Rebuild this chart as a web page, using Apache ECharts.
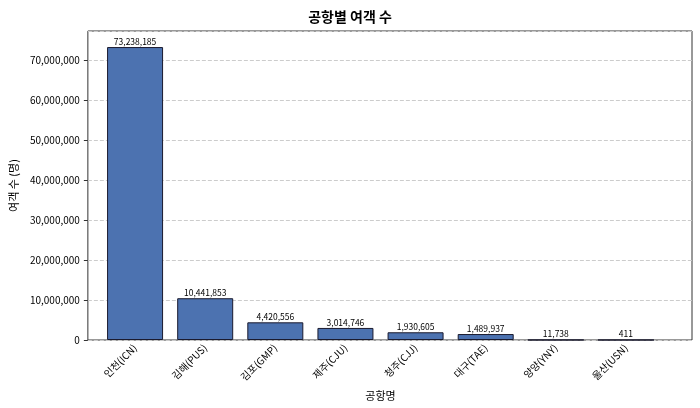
<!DOCTYPE html><html><head><meta charset="utf-8"><script src="https://cdn.jsdelivr.net/npm/echarts@6/dist/echarts.min.js"></script></head><body style="margin:0"><div id="c" style="width:700px;height:408px"></div><script>
const categories=['인천(ICN)','김해(PUS)','김포(GMP)','제주(CJU)','청주(CJJ)','대구(TAE)','양양(YNY)','울산(USN)'];
const passengers=[73238185,10441853,4420556,3014746,1930605,1489937,11738,411];
const F='"Noto Sans CJK KR", sans-serif';
const YMAX=77250000;
const fmt=v=>v.toLocaleString('en-US');
const ch=echarts.init(document.getElementById('c'));
ch.setOption({
 animation:false,
 title:{text:'공항별 여객 수',left:'center',top:5,textStyle:{fontFamily:F,fontSize:14,fontWeight:'bold',color:'#000'}},
 grid:[{left:70,right:8,top:31,bottom:68,show:true,borderColor:'#333',borderWidth:1},
       {left:100,width:561,top:31,bottom:68}],
 xAxis:[{gridIndex:0,type:'value',min:0,max:1,show:false},
  {gridIndex:1,type:'category',data:categories,axisLine:{show:false},axisTick:{alignWithLabel:true,length:4,lineStyle:{color:'#333'}},
   axisLabel:{rotate:45,fontFamily:F,fontSize:10,color:'#000',margin:6},
   name:'공항명',nameLocation:'middle',nameGap:50,nameTextStyle:{fontFamily:F,fontSize:11,color:'#000'}}],
 yAxis:[{gridIndex:0,type:'value',min:0,max:YMAX,interval:10000000,
   axisLabel:{formatter:v=>fmt(v),fontFamily:F,fontSize:10,color:'#000',showMaxLabel:false},
   axisTick:{show:true,length:4,lineStyle:{color:'#333'}},axisLine:{show:false},
   splitLine:{lineStyle:{type:'dashed',color:'#ccc'}},
   name:'여객 수 (명)',nameLocation:'middle',nameGap:58,nameTextStyle:{fontFamily:F,fontSize:11,color:'#000'}},
  {gridIndex:1,type:'value',min:0,max:YMAX,show:false,splitLine:{show:false}}],
 series:[{type:'bar',xAxisIndex:1,yAxisIndex:1,data:passengers,barWidth:56,
   itemStyle:{color:'#4c72b0',borderColor:'#1a1a2e',borderWidth:1},
   label:{show:true,position:'top',distance:1,formatter:p=>fmt(p.value),fontFamily:F,fontSize:8.5,color:'#000'}}]
});
</script></body></html>
